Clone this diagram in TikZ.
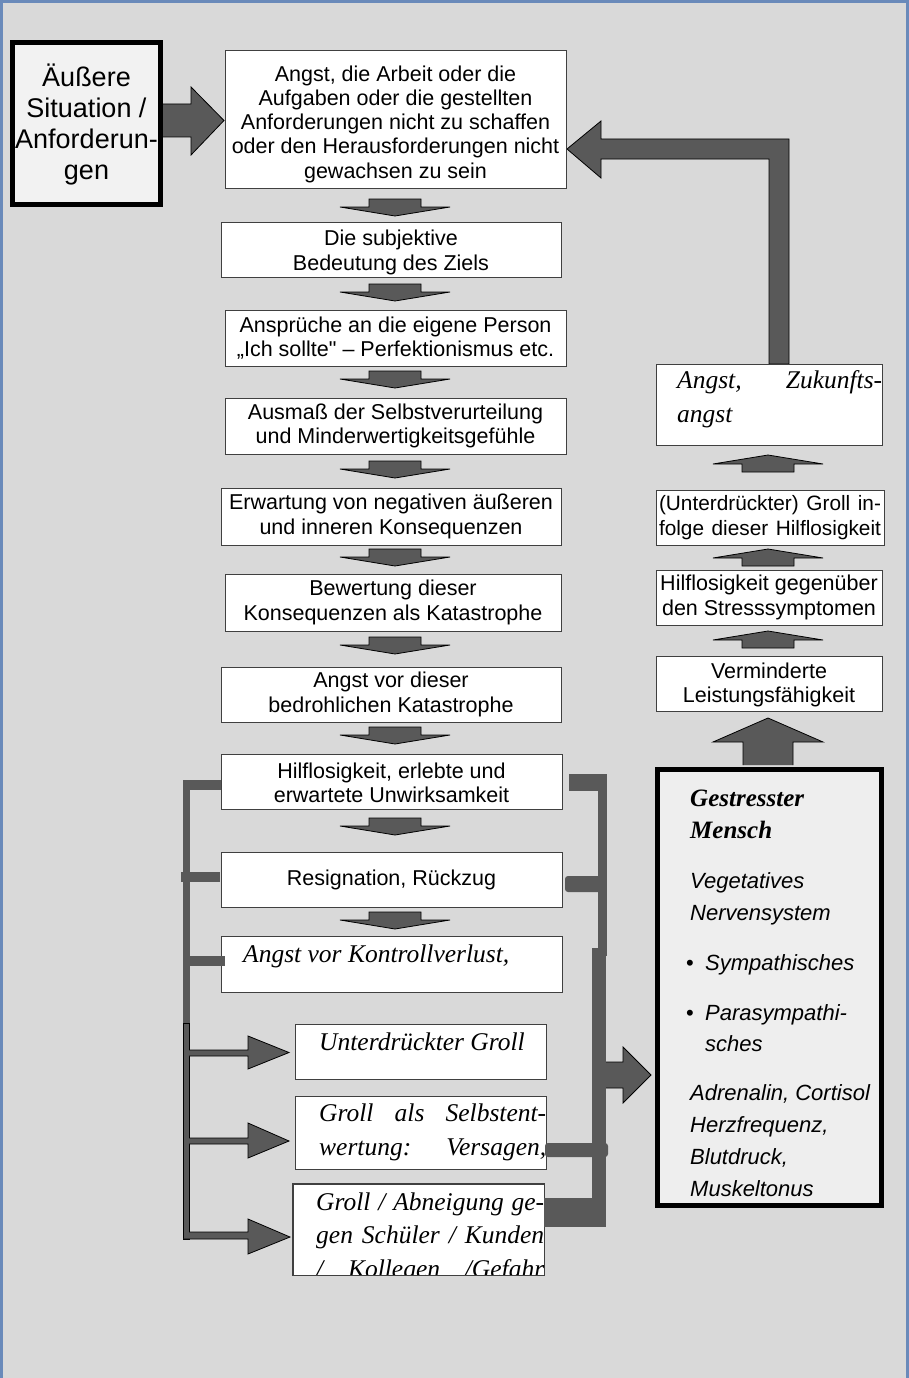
\documentclass[tikz,border=0pt]{standalone}
\usepackage{fontspec}
\setmainfont{Liberation Sans}[Ligatures=TeXOff]
\newfontfamily\serifit{Liberation Serif}
\usetikzlibrary{calc}
\definecolor{bg}{HTML}{D9D9D9}
\definecolor{arr}{HTML}{595959}
\definecolor{framec}{HTML}{6A8ABA}
\definecolor{boxedge}{HTML}{404040}
\definecolor{extfill}{HTML}{F2F2F2}
\definecolor{menschfill}{HTML}{EEEEEE}
\newcommand\up[1]{\rule{0pt}{#1}}
\tikzset{
  box/.style={draw=boxedge, line width=1pt, fill=white, inner sep=0pt, align=center,
    font=\fontsize{21.5}{24.2}\selectfont},
  blk/.style={fill=arr, draw=black, line width=0.8pt, line join=miter},
  sitxt/.style={font=\serifit\itshape\fontsize{25.5}{34}\selectfont, inner sep=0pt, anchor=base west},
  mtxt/.style={font=\itshape\fontsize{22}{32}\selectfont, inner sep=0pt, anchor=base west},
  mhead/.style={font=\serifit\bfseries\itshape\fontsize{25}{32}\selectfont, inner sep=0pt, anchor=base west},
  pics/downarr/.style={code={\path[blk] (-26,0) -- (26,0) -- (26,8) -- (55,8) -- (0,17) -- (-55,8) -- (-26,8) -- cycle;}},
  pics/uparr/.style={code={\path[blk] (-26,0) -- (26,0) -- (26,-8) -- (55,-8) -- (0,-17) -- (-55,-8) -- (-26,-8) -- cycle;}},
}
\begin{document}
\begin{tikzpicture}[x=1pt,y=-1pt]
\useasboundingbox (0,0) rectangle (909,1378);
\fill[bg] (0,0) rectangle (909,1378);
\draw[framec, line width=3pt] (1.5,1378) -- (1.5,1.5) -- (907.5,1.5) -- (907.5,1378);

% feedback L-arrow
\path[blk] (769,364) -- (769,159) -- (601,159) -- (601,178) -- (567,149) -- (601,121) -- (601,139) -- (789,139) -- (789,364) -- cycle;

% external box and arrow
\path[blk] (160,104) -- (191,104) -- (191,87) -- (224,120.5) -- (191,155) -- (191,137) -- (160,137);
\node[draw=black, line width=5pt, fill=extfill, minimum width=148pt, minimum height=162pt, inner sep=0pt,
  align=center, font=\fontsize{27}{31}\selectfont] (ext) at (86.5,123.5) {\up{25.5pt}Äußere\\Situation /\\Anforderun-\\gen};

% left column
\node[box, minimum width=341pt, minimum height=137pt] (b1) at (395.5,119.5)
  {\up{25pt}Angst, die Arbeit oder die\\Aufgaben oder die gestellten\\Anforderungen nicht zu schaffen\\oder den Herausforderungen nicht\\gewachsen zu sein};
\node[box, minimum width=340pt, minimum height=55pt] (b2) at (391,249.5) {\up{21.5pt}Die subjektive\\Bedeutung des Ziels};
\node[box, minimum width=341pt, minimum height=56pt] (b3) at (395.5,338) {Ansprüche an die eigene Person\\„Ich sollte" – Perfektionismus etc.};
\node[box, minimum width=341pt, minimum height=56pt] (b4) at (395.5,426) {Ausmaß der Selbstverurteilung\\und Minderwertigkeitsgefühle};
\node[box, minimum width=340pt, minimum height=57pt] (b5) at (391,516.5) {Erwartung von negativen äußeren\\und inneren Konsequenzen};
\node[box, minimum width=336pt, minimum height=57pt] (b6) at (393,602.5) {Bewertung dieser\\Konsequenzen als Katastrophe};
\node[box, minimum width=340pt, minimum height=55pt] (b7) at (391,694.5) {Angst vor dieser\\bedrohlichen Katastrophe};
\node[box, minimum width=341pt, minimum height=55pt] (b8) at (391.5,781.5) {\up{18pt}Hilflosigkeit, erlebte und\\erwartete Unwirksamkeit};
\node[box, minimum width=341pt, minimum height=55pt] (b9) at (391.5,879.5) {Resignation, Rückzug};
\node[box, minimum width=341pt, minimum height=56pt] (b10) at (391.5,964) {};
\node[sitxt] (b10t) at (243,962) {Angst vor Kontrollverlust,};
\node[box, minimum width=251pt, minimum height=55pt] (b11) at (420.5,1051.5) {};
\node[sitxt] (b11t) at (319,1050) {Unterdrückter Groll};
\node[box, minimum width=251pt, minimum height=73pt] (b12) at (420.5,1132.5) {};
\node[sitxt] (b12a) at (319,1121) {\hbox to 227pt{Groll als Selbstent-}};
\node[sitxt] (b12b) at (319,1155) {\hbox to 227pt{wertung: Versagen,}};
\node[box, minimum width=251pt, minimum height=91pt] (b13) at (418.5,1229.5) {};
\begin{scope}
  \clip (b13.north west) rectangle (b13.south east);
  \node[sitxt] (b13a) at (316,1210) {\hbox to 228pt{Groll / Abneigung ge-}};
  \node[sitxt] (b13b) at (316,1243) {\hbox to 228pt{gen Schüler / Kunden}};
  \node[sitxt] (b13c) at (316,1277) {\hbox to 228pt{/ Kollegen /Gefahr}};
\end{scope}
\draw[boxedge, line width=1pt] (b13.north west) rectangle (b13.south east);

% down arrows
\foreach \yy in {199,284,371,461,549,637,727,818,912} { \pic at (395,\yy) {downarr}; }

% right column
\node[box, minimum width=226pt, minimum height=81pt] (r1) at (769,404.5) {};
\node[sitxt] (r1a) at (677,388) {\hbox to 205pt{Angst, Zukunfts-}};
\node[sitxt] (r1b) at (677,422) {angst};
\node[box, minimum width=228pt, minimum height=55pt, font=\fontsize{20.8}{24.5}\selectfont] (r2) at (770,517.5)
  {\hbox to 222pt{(Unterdrückter) Groll in-}\\\hbox to 222pt{folge dieser Hilflosigkeit}};
\node[box, minimum width=226pt, minimum height=55pt] (r3) at (769,597.5) {Hilflosigkeit gegenüber\\den Stresssymptomen};
\node[box, minimum width=226pt, minimum height=55pt] (r4) at (769,683.5) {\up{18pt}Verminderte\\Leistungsfähigkeit};
\pic at (768,472) {uparr};
\pic at (768,566) {uparr};
\pic at (768,648) {uparr};
\path[blk] (743,765) -- (743,742) -- (713,742) -- (768,718) -- (823,742) -- (793,742) -- (793,765);

% stressed person box
\node[draw=black, line width=5pt, fill=menschfill, minimum width=224pt, minimum height=436pt, inner sep=0pt] (M) at (769.5,987.5) {};
\node[mhead] (m1) at (690,806) {Gestresster};
\node[mhead] (m2) at (690,838) {Mensch};
\node[mtxt] (m3) at (690,888) {Vegetatives};
\node[mtxt] (m4) at (690,920) {Nervensystem};
\node[mtxt] (m5) at (686,970) {\makebox[19pt][l]{\upshape\textbullet}Sympathisches};
\node[mtxt] (m6) at (686,1020) {\makebox[19pt][l]{\upshape\textbullet}Parasympathi-};
\node[mtxt] (m7) at (705,1051) {sches};
\node[mtxt] (m8) at (690,1100) {Adrenalin, Cortisol};
\node[mtxt] (m9) at (690,1132) {Herzfrequenz,};
\node[mtxt] (m10) at (690,1164) {Blutdruck,};
\node[mtxt] (m11) at (690,1196) {Muskeltonus};

% left connector
\fill[arr] (183,780) rectangle (190,1030);
\fill[arr] (183,780) rectangle (221,790);
\fill[arr] (181,872) rectangle (220,882);
\fill[arr] (183,956) rectangle (225,966);
\path[blk] (183,1023) rectangle (189,1239);
\path[blk] (189,1050) -- (248,1050) -- (248,1036) -- (289,1052.5) -- (248,1069) -- (248,1056) -- (189,1056);
\path[blk] (189,1138) -- (248,1138) -- (248,1123) -- (289,1141) -- (248,1158) -- (248,1144) -- (189,1144);
\path[blk] (189,1232) -- (248,1232) -- (248,1219) -- (290,1237) -- (248,1254) -- (248,1239) -- (183.4,1239);

% right connector
\fill[arr] (569,774) rectangle (607,791);
\fill[arr] (598,774) rectangle (607,956);
\fill[arr, rounded corners=3pt] (565,876) rectangle (603,892);
\fill[arr] (592,948) rectangle (606,1227);
\fill[arr, rounded corners=3pt] (545,1143) rectangle (608,1157);
\fill[arr] (544,1198) rectangle (606,1227);
\path[blk] (606,1062) -- (623,1062) -- (623,1047) -- (651,1075) -- (623,1103) -- (623,1088) -- (606,1088);
\end{tikzpicture}
\end{document}
